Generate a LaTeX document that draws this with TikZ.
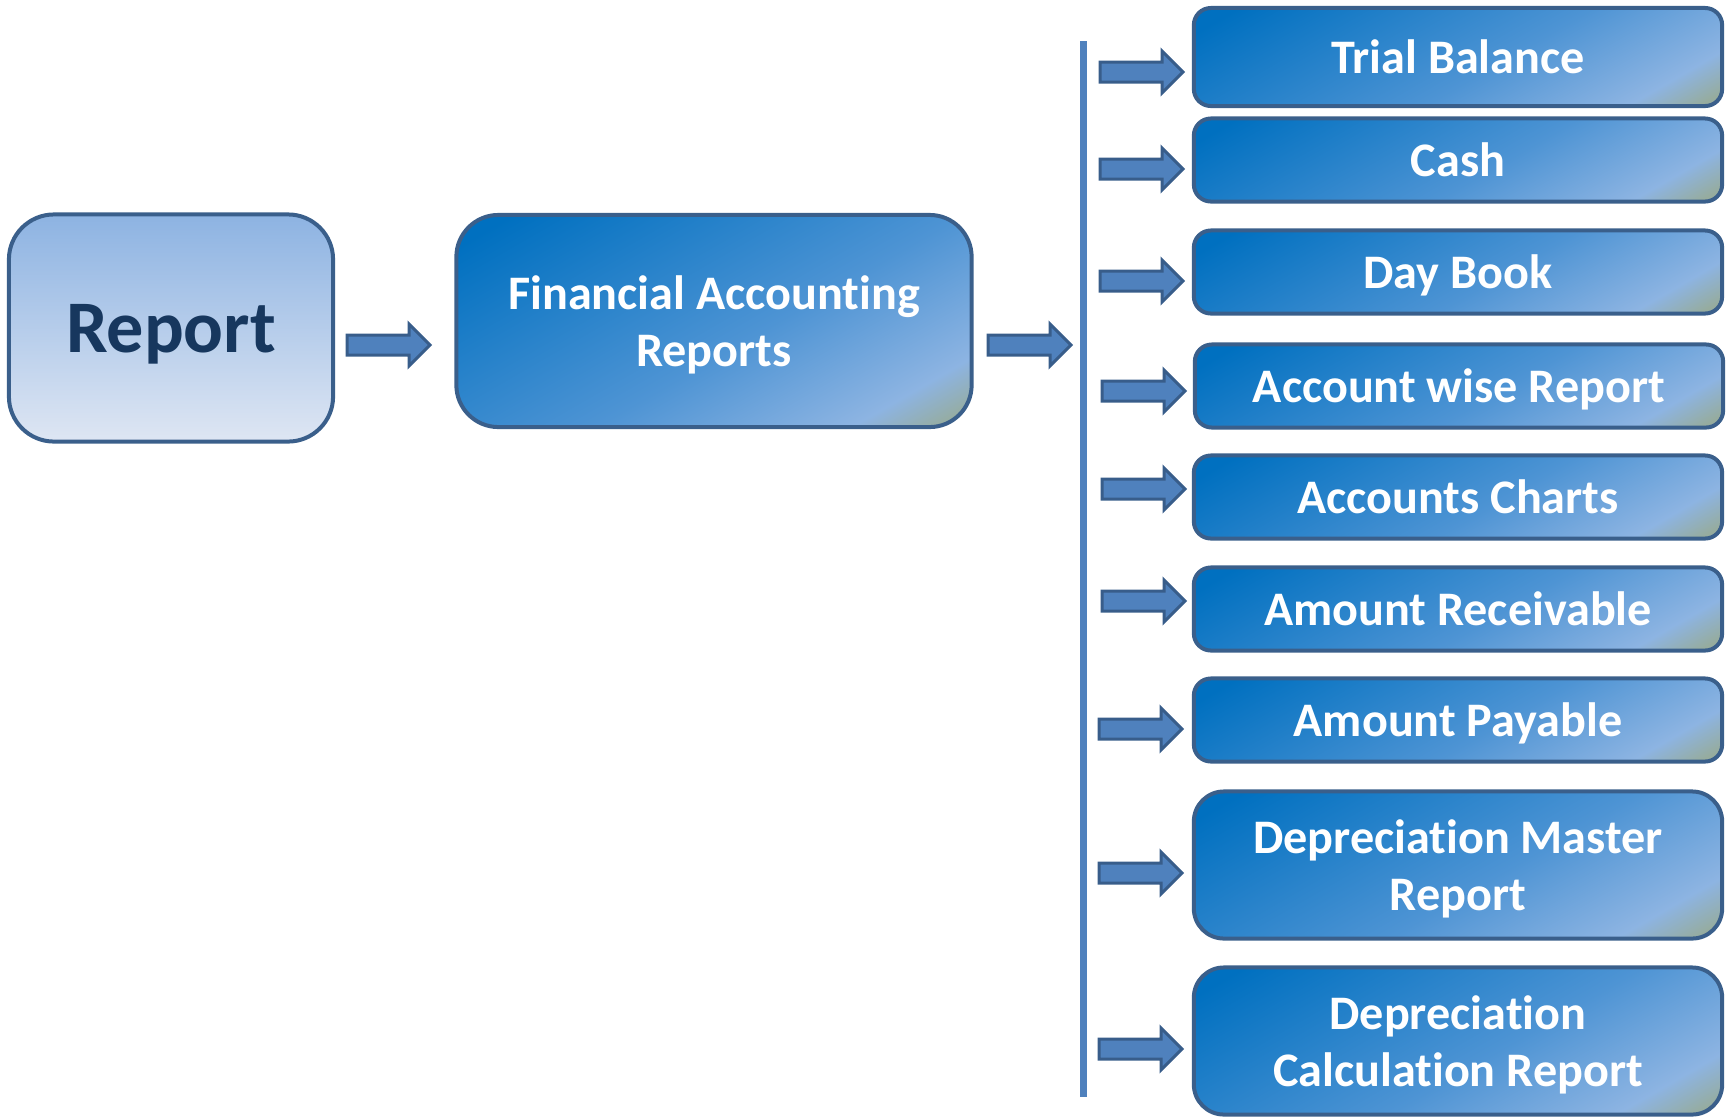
\documentclass[tikz,border=0pt]{standalone}
\usepackage{fontspec}
\setmainfont{Carlito}[Ligatures=NoCommon]
\usetikzlibrary{shapes.arrows}

\begin{document}
\begin{tikzpicture}[x=0.01cm,y=-0.01cm]

		\definecolor{boxBorder}{RGB}{58,95,139}
		\definecolor{arrowBlue}{RGB}{79,129,189}
		\definecolor{arrowBorder}{RGB}{56,93,138}
		\definecolor{boxDark}{RGB}{0,112,192}
		\definecolor{boxMid}{RGB}{78,148,212}
		\definecolor{boxLight}{RGB}{141,180,226}
		\definecolor{boxGreen}{RGB}{150,172,158}
		\definecolor{reportTop}{RGB}{141,179,226}
		\definecolor{reportBottom}{RGB}{222,230,243}
		\definecolor{reportText}{RGB}{23,55,94}

		\pgfdeclareverticalshading{blueBox}{100bp}{color(0bp)=(boxGreen); color(18bp)=(boxGreen); color(25bp)=(boxLight); color(45bp)=(boxMid); color(80bp)=(boxDark); color(100bp)=(boxDark)}

		\tikzset{
			box/.style={draw=boxBorder, line width=0.04cm, shading=blueBox, shading angle=30, text=white, font=\bfseries\fontsize{13.7}{16}\selectfont, align=center, inner sep=0, text depth=0pt},
			listBox/.style={box, minimum width=5.28cm, minimum height=0.83cm, rounded corners=0.17cm},
			blockArrow/.style={single arrow, draw=arrowBorder, fill=arrowBlue, line width=0.03cm, minimum height=0.83cm, inner sep=0.085cm, single arrow head extend=0.11cm, anchor=tail}
		}

		%\draw[step=100,gray,very thin] (0,0) grid (1729,1117);
		\useasboundingbox (0,0) rectangle (1729,1117);

		\node[draw=boxBorder, line width=0.04cm, top color=reportTop, bottom color=reportBottom, rounded corners=0.45cm, minimum width=3.24cm, minimum height=2.27cm, text=reportText, text depth=0pt, font=\bfseries\fontsize{21.1}{24}\selectfont] (report) at (171,328) {Report};
		\node[box, minimum width=5.15cm, minimum height=2.12cm, rounded corners=0.42cm] (far) at (714,321) {Financial Accounting\\Reports};

		\node[blockArrow] (arrowReport) at (345.5,345) {};
		\node[blockArrow] (arrowFar) at (986.5,345) {};

		\coordinate (spineTop) at (1083,41);
		\coordinate (spineBottom) at (1083,1097);
		\draw[arrowBlue, line width=0.07cm] (spineTop) -- (spineBottom);

		\node[listBox, minimum height=0.98cm] (trial) at (1458,57) {Trial Balance};
			\node[blockArrow] (arrowTrial) at (1098.5,72) {};
		\node[listBox] (cash) at (1458,160) {Cash};
			\node[blockArrow] (arrowCash) at (1098.5,169) {};
		\node[listBox] (dayBook) at (1458,272) {Day Book};
			\node[blockArrow] (arrowDayBook) at (1098.5,281) {};
		\node[listBox] (accountWise) at (1459,386) {Account wise Report};
			\node[blockArrow] (arrowAccountWise) at (1100.5,391) {};
		\node[listBox] (accountsCharts) at (1458,497) {Accounts Charts};
			\node[blockArrow] (arrowAccountsCharts) at (1100.5,489) {};
		\node[listBox] (receivable) at (1458,609) {Amount Receivable};
			\node[blockArrow] (arrowReceivable) at (1100.5,601) {};
		\node[listBox] (payable) at (1458,720) {Amount Payable};
			\node[blockArrow] (arrowPayable) at (1097.5,729) {};
		\node[listBox, minimum height=1.47cm, rounded corners=0.3cm] (depMaster) at (1458,865) {Depreciation Master\\Report};
			\node[blockArrow] (arrowDepMaster) at (1097.5,873) {};
		\node[listBox, minimum height=1.47cm, rounded corners=0.3cm] (depCalc) at (1458,1041) {Depreciation\\Calculation Report};
			\node[blockArrow] (arrowDepCalc) at (1097.5,1049) {};

\end{tikzpicture}
\end{document}
